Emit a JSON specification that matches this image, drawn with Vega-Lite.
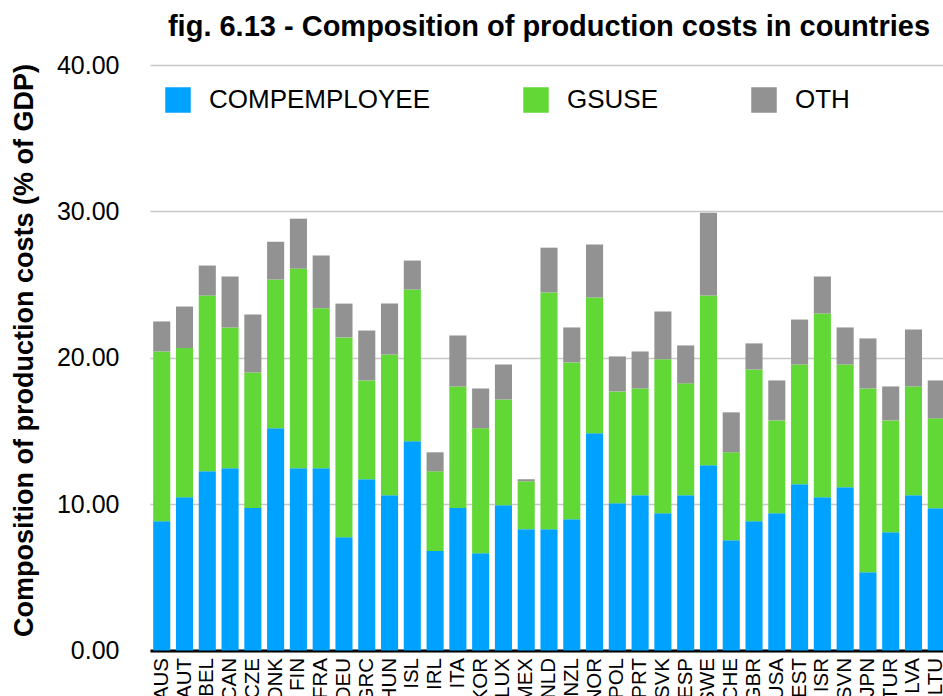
{
  "$schema": "https://vega.github.io/schema/vega-lite/v6.json",
  "autosize": {"type": "none"},
  "padding": {"left": 150, "top": 65, "right": 0, "bottom": 46},
  "width": 798,
  "height": 585.5,
  "background": "white",
  "title": {
    "text": "fig. 6.13 - Composition of production costs in countries",
    "font": "Liberation Sans",
    "fontSize": 29,
    "fontWeight": "bold",
    "color": "black",
    "anchor": "middle",
    "frame": "group",
    "offset": 11
  },
  "data": {
    "values": [
      {"country": "AUS", "COMPEMPLOYEE": 8.83, "GSUSE": 11.60, "OTH": 2.05},
      {"country": "AUT", "COMPEMPLOYEE": 10.47, "GSUSE": 10.19, "OTH": 2.84},
      {"country": "BEL", "COMPEMPLOYEE": 12.24, "GSUSE": 12.01, "OTH": 2.05},
      {"country": "CAN", "COMPEMPLOYEE": 12.45, "GSUSE": 9.62, "OTH": 3.48},
      {"country": "CZE", "COMPEMPLOYEE": 9.74, "GSUSE": 9.26, "OTH": 3.95},
      {"country": "DNK", "COMPEMPLOYEE": 15.18, "GSUSE": 10.16, "OTH": 2.59},
      {"country": "FIN", "COMPEMPLOYEE": 12.45, "GSUSE": 13.64, "OTH": 3.41},
      {"country": "FRA", "COMPEMPLOYEE": 12.45, "GSUSE": 10.94, "OTH": 3.59},
      {"country": "DEU", "COMPEMPLOYEE": 7.74, "GSUSE": 13.65, "OTH": 2.31},
      {"country": "GRC", "COMPEMPLOYEE": 11.70, "GSUSE": 6.75, "OTH": 3.41},
      {"country": "HUN", "COMPEMPLOYEE": 10.60, "GSUSE": 9.63, "OTH": 3.47},
      {"country": "ISL", "COMPEMPLOYEE": 14.29, "GSUSE": 10.37, "OTH": 1.98},
      {"country": "IRL", "COMPEMPLOYEE": 6.79, "GSUSE": 5.45, "OTH": 1.30},
      {"country": "ITA", "COMPEMPLOYEE": 9.74, "GSUSE": 8.30, "OTH": 3.48},
      {"country": "KOR", "COMPEMPLOYEE": 6.65, "GSUSE": 8.53, "OTH": 2.72},
      {"country": "LUX", "COMPEMPLOYEE": 9.92, "GSUSE": 7.23, "OTH": 2.39},
      {"country": "MEX", "COMPEMPLOYEE": 8.29, "GSUSE": 3.27, "OTH": 0.14},
      {"country": "NLD", "COMPEMPLOYEE": 8.29, "GSUSE": 16.17, "OTH": 3.06},
      {"country": "NZL", "COMPEMPLOYEE": 8.97, "GSUSE": 10.71, "OTH": 2.39},
      {"country": "NOR", "COMPEMPLOYEE": 14.84, "GSUSE": 9.27, "OTH": 3.62},
      {"country": "POL", "COMPEMPLOYEE": 10.06, "GSUSE": 7.64, "OTH": 2.39},
      {"country": "PRT", "COMPEMPLOYEE": 10.60, "GSUSE": 7.30, "OTH": 2.53},
      {"country": "SVK", "COMPEMPLOYEE": 9.38, "GSUSE": 10.51, "OTH": 3.27},
      {"country": "ESP", "COMPEMPLOYEE": 10.60, "GSUSE": 7.65, "OTH": 2.59},
      {"country": "SWE", "COMPEMPLOYEE": 12.65, "GSUSE": 11.60, "OTH": 5.66},
      {"country": "CHE", "COMPEMPLOYEE": 7.54, "GSUSE": 6.00, "OTH": 2.73},
      {"country": "GBR", "COMPEMPLOYEE": 8.83, "GSUSE": 10.37, "OTH": 1.78},
      {"country": "USA", "COMPEMPLOYEE": 9.38, "GSUSE": 6.34, "OTH": 2.73},
      {"country": "EST", "COMPEMPLOYEE": 11.36, "GSUSE": 8.18, "OTH": 3.07},
      {"country": "ISR", "COMPEMPLOYEE": 10.47, "GSUSE": 12.55, "OTH": 2.53},
      {"country": "SVN", "COMPEMPLOYEE": 11.15, "GSUSE": 8.39, "OTH": 2.53},
      {"country": "JPN", "COMPEMPLOYEE": 5.35, "GSUSE": 12.55, "OTH": 3.42},
      {"country": "TUR", "COMPEMPLOYEE": 8.08, "GSUSE": 7.64, "OTH": 2.32},
      {"country": "LVA", "COMPEMPLOYEE": 10.60, "GSUSE": 7.44, "OTH": 3.89},
      {"country": "LTU", "COMPEMPLOYEE": 9.72, "GSUSE": 6.14, "OTH": 2.59}
    ]
  },
  "transform": [
    {"fold": ["COMPEMPLOYEE", "GSUSE", "OTH"], "as": ["component", "value"]}
  ],
  "mark": {"type": "bar"},
  "encoding": {
    "x": {
      "field": "country",
      "type": "nominal",
      "sort": null,
      "scale": {"paddingInner": 0.25, "paddingOuter": 0.14},
      "axis": {
        "title": null,
        "labelAngle": -90,
        "labelFont": "Liberation Sans",
        "labelFontSize": 20.5,
        "labelColor": "black",
        "labelPadding": 7,
        "ticks": false,
        "domainColor": "black",
        "domainWidth": 3
      }
    },
    "y": {
      "field": "value",
      "type": "quantitative",
      "stack": "zero",
      "scale": {"domain": [0, 40], "nice": false},
      "axis": {
        "title": "Composition of production costs (% of GDP)",
        "titleFont": "Liberation Sans",
        "titleFontSize": 27,
        "titleFontWeight": "bold",
        "titleColor": "black",
        "titleAngle": -90,
        "titleBaseline": "alphabetic",
        "titleAlign": "center",
        "titleX": -118,
        "titleY": 285,
        "values": [0, 10, 20, 30, 40],
        "format": ".2f",
        "labelFont": "Liberation Sans",
        "labelFontSize": 25,
        "labelColor": "black",
        "labelPadding": 31,
        "ticks": false,
        "domain": false,
        "gridColor": "#c8c8c8",
        "gridWidth": 1.5
      }
    },
    "order": {"field": "component", "sort": "ascending"},
    "color": {
      "field": "component",
      "type": "nominal",
      "scale": {"domain": ["COMPEMPLOYEE", "GSUSE", "OTH"], "range": ["#00A2FF", "#61D836", "#929292"]},
      "legend": {
        "title": null,
        "orient": "none",
        "legendX": 15,
        "legendY": 22,
        "direction": "horizontal",
        "symbolType": "square",
        "symbolSize": 650,
        "symbolStrokeWidth": 0,
        "symbolOpacity": 1,
        "labelFont": "Liberation Sans",
        "labelFontSize": 26,
        "labelColor": "black",
        "labelOffset": 18,
        "labelLimit": 400,
        "columnPadding": 92,
        "padding": 0
      }
    }
  },
  "config": {"view": {"stroke": null}}
}
